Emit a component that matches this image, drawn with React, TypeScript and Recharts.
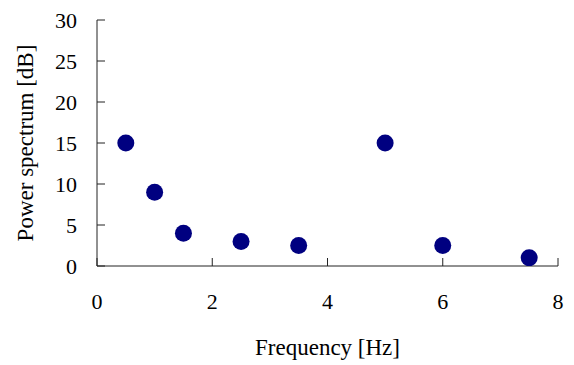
import React from 'react';
import { ScatterChart, Scatter, XAxis, YAxis, Label } from 'recharts';

const frequencies = [0.5, 1, 1.5, 2.5, 3.5, 5, 6, 7.5];
const powerDb = [15, 9, 4, 3, 2.5, 15, 2.5, 1];
const xTicks = [0, 2, 4, 6, 8];
const yTicks = [0, 5, 10, 15, 20, 25, 30];

const data = frequencies.map((f, i) => ({ f, p: powerDb[i] }));

const FONT = '"Liberation Serif", "Times New Roman", serif';
const tickStyle = { fontSize: 22, fill: '#000', fontFamily: FONT };

const Dot = (props: any) => <circle cx={props.cx} cy={props.cy} r={8.5} fill="#000080" />;

const App: React.FC = () => {
  return (
    <div style={{ position: 'absolute', left: 0, top: 0 }}>
      <ScatterChart width={574} height={365} margin={{ top: 20, right: 16, bottom: 0, left: 0 }}>
        <XAxis
          type="number"
          dataKey="f"
          domain={[0, 8]}
          ticks={xTicks}
          height={99}
          tickSize={-8}
          tickMargin={35}
          tick={tickStyle}
          stroke="#222"
          allowDataOverflow
        >
          <Label
            content={({ viewBox }: any) => (
              <text
                x={viewBox.x + viewBox.width / 2}
                y={355}
                textAnchor="middle"
                fontSize={23}
                fontFamily={FONT}
                fill="#000"
              >
                Frequency [Hz]
              </text>
            )}
          />
        </XAxis>
        <YAxis
          type="number"
          dataKey="p"
          domain={[0, 30]}
          ticks={yTicks}
          width={97}
          tickSize={-8}
          tickMargin={28}
          tick={tickStyle}
          stroke="#222"
          allowDataOverflow
        >
          <Label
            content={({ viewBox }: any) => {
              const cy = viewBox.y + viewBox.height / 2;
              return (
                <text
                  x={25}
                  y={cy}
                  transform={`rotate(-90 25 ${cy})`}
                  textAnchor="middle"
                  dominantBaseline="central"
                  fontSize={23}
                  fontFamily={FONT}
                  fill="#000"
                >
                  Power spectrum [dB]
                </text>
              );
            }}
          />
        </YAxis>
        <Scatter data={data} shape={Dot} isAnimationActive={false} />
      </ScatterChart>
    </div>
  );
};

export default App;
